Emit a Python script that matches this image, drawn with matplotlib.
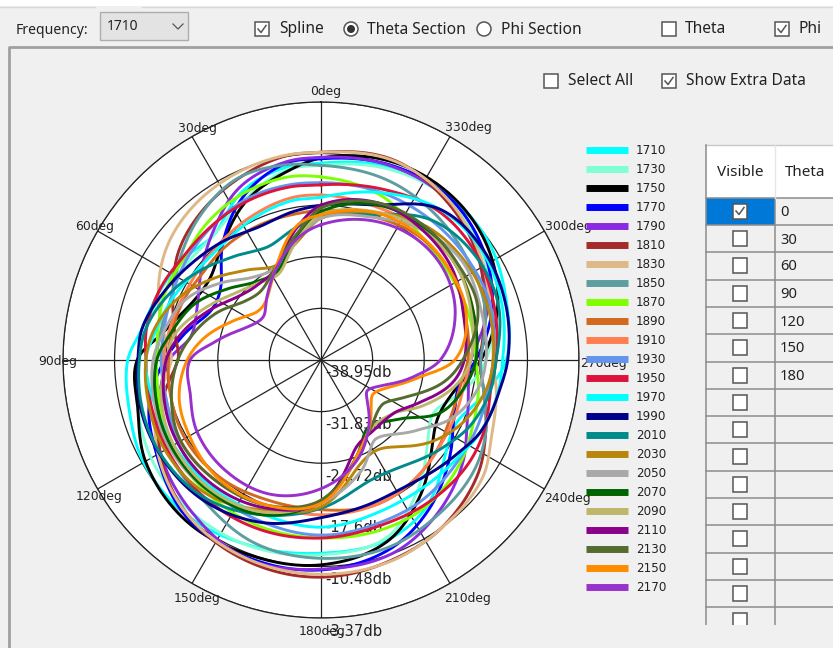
import numpy as np
import matplotlib
matplotlib.use("Agg")
import matplotlib.pyplot as plt
from matplotlib.patches import Rectangle, Circle
from matplotlib.lines import Line2D

# ---------- data ----------
angles_deg = [0,10,25,40,53,66,80,90,105,120,140,160,180,200,215,234,246,260,270,288,305,322,340]
s1710 = [-11.8,-11.9,-13.3,-16.2,-15.5,-14.8,-13.9,-12.3,-11.6,-10.7,-10.7,-11.6,-12.3,-12.5,-13.9,-17.6,-18.3,-15.5,-13.4,-12.1,-10.7,-10.3,-10.7]
s1730 = [-12.1,-12.3,-14.4,-16.2,-16.2,-15.5,-14.4,-13.7,-12.8,-11.9,-11.4,-11.5,-12.1,-12.8,-16.2,-20.7,-21.7,-18.3,-16.2,-14.1,-12.1,-10.7,-11.0]
s1750 = [-11.1,-12.5,-14.7,-17.9,-19.9,-19.5,-16.9,-13.6,-12.8,-11.0,-10.0,-10.3,-10.7,-12.3,-15.5,-19.9,-21.0,-19.6,-16.9,-13.3,-11.1,-10.0,-9.9]
s1770 = [-11.2,-11.4,-13.9,-17.9,-21.7,-22.3,-19.6,-17.4,-14.4,-12.8,-10.4,-9.9,-10.0,-11.2,-13.4,-16.9,-18.9,-19.6,-17.6,-14.1,-11.8,-10.4,-10.4]
s1790 = [-11.0,-11.2,-12.6,-15.8,-18.3,-20.3,-20.7,-18.0,-15.8,-13.4,-11.4,-9.7,-10.1,-10.5,-12.1,-14.8,-16.9,-18.3,-18.3,-14.8,-12.8,-10.8,-10.5]
s1810 = [-10.3,-10.4,-11.5,-12.8,-14.3,-16.6,-18.5,-19.2,-16.2,-13.3,-10.7,-9.4,-9.0,-9.7,-10.4,-12.2,-14.1,-16.2,-17.0,-15.2,-12.8,-11.0,-9.6]
s1830 = [-10.3,-10.3,-10.7,-11.4,-12.5,-14.4,-16.9,-18.3,-15.5,-13.0,-10.7,-9.7,-9.4,-9.6,-10.4,-11.4,-13.2,-14.4,-15.2,-14.4,-12.5,-10.7,-9.7]
s1850 = [-12.1,-11.6,-11.4,-13.0,-14.8,-16.5,-16.5,-16.2,-15.5,-14.4,-13.7,-12.1,-11.6,-11.5,-12.1,-12.9,-14.1,-16.2,-16.9,-15.2,-14.4,-13.4,-12.5]
s1870 = [-13.7,-13.3,-13.6,-14.4,-15.4,-15.5,-16.1,-16.3,-15.9,-15.2,-14.8,-14.5,-14.4,-14.1,-14.1,-15.1,-16.1,-16.9,-17.6,-17.6,-17.6,-16.9,-14.8]
s1890 = [-18.3,-18.5,-18.5,-18.5,-18.7,-18.3,-18.0,-17.9,-17.6,-17.3,-17.6,-18.3,-18.3,-17.6,-17.9,-18.8,-19.4,-19.4,-18.7,-18.1,-17.3,-17.2,-17.9]
s1910 = [-16.2,-16.2,-16.9,-17.6,-18.0,-18.0,-17.6,-17.2,-16.9,-16.6,-16.9,-17.6,-17.6,-17.6,-17.9,-18.7,-18.9,-18.9,-18.3,-16.9,-16.2,-16.2,-16.5]
s1930 = [-14.5,-14.4,-14.5,-15.2,-15.8,-16.5,-16.9,-16.9,-16.9,-16.2,-15.5,-15.2,-14.8,-15.1,-15.1,-15.5,-15.5,-15.5,-15.2,-14.4,-14.4,-14.4,-14.4]
s1950 = [-14.8,-14.7,-14.8,-15.1,-15.2,-14.7,-14.5,-14.8,-14.7,-14.4,-14.1,-14.1,-14.4,-14.7,-14.4,-14.1,-14.4,-15.2,-14.8,-13.9,-13.0,-12.8,-13.9]
s1970 = [-16.5,-16.6,-17.3,-18.0,-17.9,-16.9,-15.8,-14.8,-15.2,-15.5,-15.8,-16.2,-15.9,-16.5,-16.5,-15.8,-14.8,-14.1,-13.9,-12.8,-12.1,-12.5,-14.4]
s1990 = [-17.6,-18.1,-18.7,-17.7,-16.7,-15.4,-13.9,-13.7,-13.2,-13.2,-13.7,-15.1,-17.2,-18.0,-17.9,-16.3,-14.8,-14.0,-13.2,-12.3,-11.9,-12.5,-16.2]
s2010 = [-19.2,-20.3,-21.7,-20.3,-18.3,-16.2,-14.4,-13.9,-13.4,-13.3,-14.1,-16.2,-18.5,-20.9,-20.7,-18.3,-16.5,-15.2,-14.8,-13.3,-13.3,-14.4,-17.6]
s2030 = [-19.4,-22.0,-24.5,-22.8,-20.3,-17.6,-15.5,-14.8,-14.4,-14.1,-14.7,-16.9,-18.7,-23.5,-24.1,-19.9,-17.6,-15.8,-15.2,-14.8,-14.9,-15.5,-17.3]
s2050 = [-19.4,-21.7,-24.7,-24.1,-21.4,-18.5,-16.9,-15.8,-15.2,-14.8,-15.2,-16.5,-19.2,-22.7,-25.7,-22.5,-19.2,-16.9,-16.2,-15.8,-15.2,-16.2,-18.0]
s2070 = [-18.5,-21.3,-25.2,-24.9,-22.7,-19.9,-17.9,-16.3,-15.5,-15.1,-15.2,-16.2,-19.6,-24.7,-27.6,-25.2,-21.0,-18.7,-17.6,-16.9,-16.2,-15.8,-16.2]
s2090 = [-18.9,-21.7,-25.6,-25.2,-23.8,-21.4,-18.5,-17.6,-16.2,-15.5,-15.5,-16.6,-19.6,-24.5,-27.2,-26.5,-23.5,-19.9,-18.3,-17.2,-16.2,-16.2,-17.2]
s2110 = [-17.6,-20.3,-24.7,-25.4,-24.5,-22.1,-19.2,-17.6,-16.6,-16.1,-16.2,-17.2,-19.3,-25.6,-26.8,-26.5,-24.3,-20.6,-19.2,-18.3,-16.9,-16.2,-15.9]
s2130 = [-18.0,-21.0,-24.5,-26.3,-25.6,-23.1,-20.7,-19.2,-17.6,-16.6,-16.9,-17.6,-19.6,-24.7,-27.2,-28.5,-26.3,-21.7,-19.4,-16.2,-15.9,-15.6,-15.9]
s2150 = [-18.9,-20.1,-24.5,-27.5,-27.9,-25.7,-22.4,-20.5,-18.7,-18.0,-17.3,-17.6,-19.2,-24.7,-27.4,-30.3,-29.3,-25.2,-20.5,-17.9,-17.3,-17.0,-17.3]
s2170 = [-20.3,-21.7,-24.7,-27.4,-29.0,-27.8,-24.2,-20.9,-20.3,-19.2,-18.8,-19.2,-21.2,-24.3,-27.5,-31.2,-30.1,-25.9,-22.5,-19.5,-18.0,-17.7,-18.5]

series = [s1710,s1730,s1750,s1770,s1790,s1810,s1830,s1850,s1870,s1890,s1910,s1930,s1950,s1970,s1990,
          s2010,s2030,s2050,s2070,s2090,s2110,s2130,s2150,s2170]
freq_labels = ["1710","1730","1750","1770","1790","1810","1830","1850","1870","1890","1910","1930","1950",
               "1970","1990","2010","2030","2050","2070","2090","2110","2130","2150","2170"]
colors = ["cyan","aquamarine","black","blue","blueviolet","brown","burlywood","cadetblue","chartreuse","chocolate",
          "coral","cornflowerblue","crimson","cyan","darkblue","darkcyan","darkgoldenrod","darkgray","darkgreen",
          "darkkhaki","darkmagenta","darkolivegreen","darkorange","darkorchid"]
r_ticks = [-38.95,-31.83,-24.72,-17.6,-10.48,-3.37]
r_tick_labels = ["-38.95db","-31.83db","-24.72db","-17.6db","-10.48db","-3.37db"]
theta_ticks = [0,30,60,90,120,150,180,210,240,270,300,330]
theta_tick_labels = ["0deg","30deg","60deg","90deg","120deg","150deg","180deg","210deg","240deg","270deg","300deg","330deg"]
table_rows = ["0","30","60","90","120","150","180"]

W, H = 833, 648
BG = "#F0F0F0"
UI = ["Noto Sans", "DejaVu Sans"]
fig = plt.figure(figsize=(W/100, H/100), dpi=100, facecolor=BG)

# ---------- window chrome ----------
ui = fig.add_axes([0, 0, 1, 1], zorder=0)
ui.set_xlim(0, W); ui.set_ylim(H, 0); ui.axis("off")
ui.add_patch(Rectangle((0, 0), W, 6, fc="white", ec="none"))
ui.plot([0, 95], [6.5, 6.5], color="#D8D8D8", lw=1)
ui.plot([142, W], [6.5, 6.5], color="#D8D8D8", lw=1)
ui.plot([9, 9, W], [H, 47, 47], color="#A0A0A0", lw=2)

def label(x, y, s, size=11.2, **kw):
    ui.text(x, y, s, family=UI, fontsize=size, va="center", color="#222222", **kw)

def checkbox(x, y, checked=False, size=14, z=3):
    ui.add_patch(Rectangle((x, y), size, size, fc="white", ec="#555555", lw=1.1, zorder=z))
    if checked:
        ui.plot([x+3, x+6, x+11], [y+7, y+10.5, y+3.5], color="#555555", lw=1.1, zorder=z+0.1)

def radio(x, y, on=False):
    ui.add_patch(Circle((x, y), 7, fc="white", ec="#555555", lw=1.1))
    if on:
        ui.add_patch(Circle((x, y), 4, fc="#333333", ec="none"))

label(16, 30, "Frequency:", 10.1)
ui.add_patch(Rectangle((100, 12), 88, 28, fc="#E3E3E3", ec="#ADADAD", lw=1))
label(107, 26, "1710", 10)
ui.plot([173, 178, 183], [24, 29, 24], color="#555555", lw=0.9)
checkbox(255, 22, True); label(279, 29, "Spline")
radio(351, 29, True); label(367, 29.5, "Theta Section")
radio(484, 29); label(501, 29.5, "Phi Section")
checkbox(662, 22); label(685, 29, "Theta")
checkbox(775, 22, True); label(799, 29, "Phi")
checkbox(544, 74); label(568, 81, "Select All")
checkbox(662, 74, True); label(686, 81, "Show Extra Data")

# table
row_lines = [198, 225, 252, 280, 307, 334, 362, 389, 416, 443, 471, 498, 525, 553, 580, 607]
grid_c = "#8C8C8C"
ui.add_patch(Rectangle((706, 145), W-706, 53, fc="white", ec="none"))
ui.add_patch(Rectangle((706, 198), 69, 27, fc="#0078D7", ec="none"))
ui.plot([706, W], [145, 145], color="#C8C8C8", lw=1)
for y in row_lines:
    ui.plot([706, W], [y, y], color=grid_c, lw=1.1)
ui.plot([706, 706], [145, 625], color=grid_c, lw=1.1)
ui.plot([775, 775], [198, 625], color=grid_c, lw=1.1)
ui.plot([775, 775], [145, 198], color="#E6E6E6", lw=1)
label(740, 172, "Visible", 11, ha="center")
label(805, 172, "Theta", 11, ha="center")
for i, y in enumerate(row_lines):
    checkbox(733, y + 6, i == 0, 14.5)
    if i < len(table_rows):
        label(780, y + 15, table_rows[i], 10.6)
ui.add_patch(Rectangle((650, 625), W-650, H-625, fc=BG, ec="none", zorder=5))

# ---------- polar chart ----------
cx, cy, R = 321, 360, 258
ax = fig.add_axes([(cx-R)/W, (H-cy-R)/H, 2*R/W, 2*R/H], projection="polar", zorder=1)
ax.set_theta_zero_location("N")
ax.set_theta_direction(1)
ax.set_rlim(r_ticks[0], r_ticks[-1])
ax.set_rticks(r_ticks[1:])
ax.set_yticklabels([])
ax.set_xticks(np.deg2rad(theta_ticks))
ax.set_xticklabels([])
ax.tick_params(length=0)
ax.grid(True, color="#222222", lw=0.9)
ax.spines["polar"].set_color("#222222")
ax.spines["polar"].set_linewidth(0.9)
ax.set_axisbelow(True)
ax.patch.set_facecolor("white")

px = 0.72  # points per pixel at 100 dpi
theta_offsets = [(5,-11),(5,-8),(-3,-4),(-5,2),(1,8),(5,15),(1,14),(18,15),(23,9),(24,4),(24,-4),(18,-9)]
for t, s, (dx, dy) in zip(theta_ticks, theta_tick_labels, theta_offsets):
    ax.annotate(s, xy=(np.deg2rad(t), r_ticks[-1]), xytext=(dx*px, -dy*px), textcoords="offset points",
                ha="center", va="center", fontsize=8.9, color="#222222", annotation_clip=False, zorder=1.5)
for v, s in zip(r_ticks, r_tick_labels):
    ax.annotate(s, xy=(np.pi, v), xytext=(4*px, -13*px), textcoords="offset points",
                ha="left", va="center", fontsize=10.6, color="#222222", annotation_clip=False, zorder=1.5)

def smooth_closed(theta_d, vals, n=24):
    """Periodic cubic Hermite spline through the read values (the 'Spline' display mode)."""
    t = np.r_[theta_d, theta_d[0] + 360.0]
    v = np.r_[vals, vals[0]]
    k = len(theta_d)
    tp = np.r_[t[-2] - 360.0, t, t[1] + 360.0]
    vp = np.r_[v[-2], v, v[1]]
    m = (vp[2:] - vp[:-2]) / (tp[2:] - tp[:-2])
    out_t, out_v = [], []
    for i in range(k):
        h = t[i+1] - t[i]
        u = np.linspace(0, 1, n, endpoint=False)
        out_t.append(t[i] + h*u)
        out_v.append((2*u**3-3*u**2+1)*v[i] + (u**3-2*u**2+u)*h*m[i]
                     + (-2*u**3+3*u**2)*v[i+1] + (u**3-u**2)*h*m[i+1])
    out_t = np.r_[np.concatenate(out_t), t[-1]]
    out_v = np.r_[np.concatenate(out_v), v[-1]]
    return np.deg2rad(out_t), out_v

th = np.array(angles_deg, float)
for vals, col, lab in zip(series, colors, freq_labels):
    tt, vv = smooth_closed(th, np.array(vals, float))
    ax.plot(tt, vv, color=col, lw=2.1, zorder=2, solid_joinstyle="round")

handles = [Line2D([], [], color=c, lw=5, solid_capstyle="butt") for c in colors]
leg = ax.legend(handles, freq_labels, loc="upper left", bbox_to_anchor=(580/W, 1-138.5/H),
                bbox_transform=fig.transFigure, frameon=False, fontsize=8.6, handlelength=3.5,
                handletextpad=0.68, labelspacing=0.5, borderpad=0.5, borderaxespad=0)
leg.set_zorder(5)
for t in leg.get_texts():
    t.set_color("#222222")

fig.savefig("out.png", dpi=100, facecolor=fig.get_facecolor())
